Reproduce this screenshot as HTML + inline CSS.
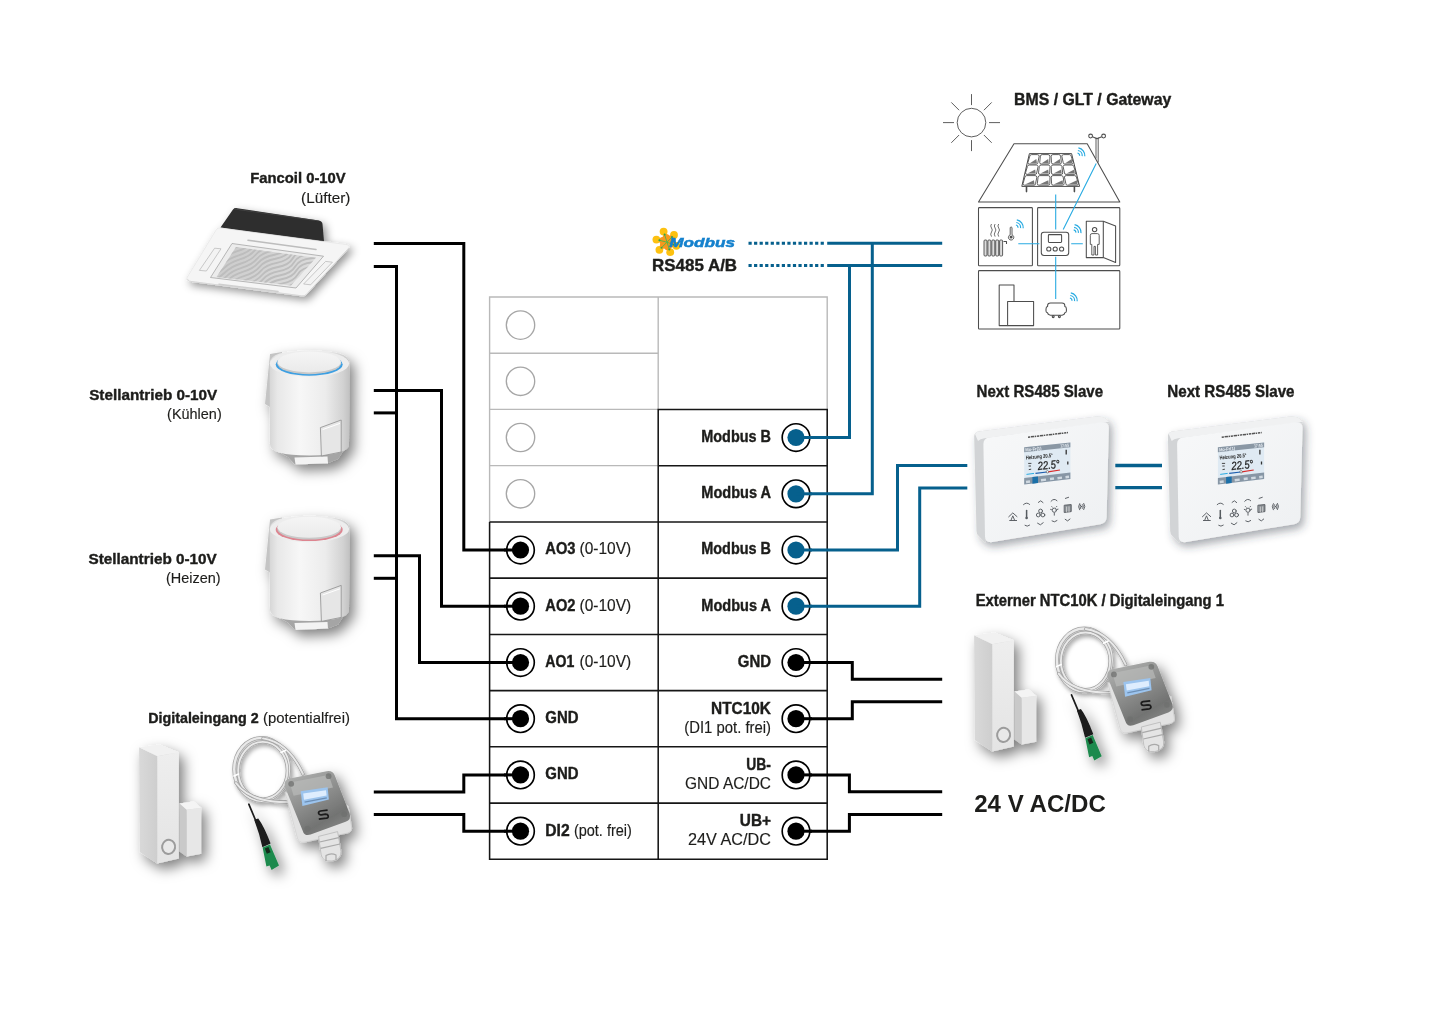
<!DOCTYPE html>
<html><head><meta charset="utf-8"><title>Wiring diagram</title>
<style>
html,body{margin:0;padding:0;background:#fff;}
body{width:1445px;height:1021px;overflow:hidden;font-family:"Liberation Sans",sans-serif;}
svg{display:block;font-family:"Liberation Sans",sans-serif;will-change:transform;}
</style></head><body>
<svg width="1445" height="1021" viewBox="0 0 1445 1021">
<defs>
<filter id="b2" x="-30%" y="-30%" width="160%" height="160%"><feGaussianBlur stdDeviation="2"/></filter>
<filter id="b3" x="-30%" y="-30%" width="160%" height="160%"><feGaussianBlur stdDeviation="3.2"/></filter>
<filter id="b5" x="-40%" y="-40%" width="180%" height="180%"><feGaussianBlur stdDeviation="5"/></filter>
<filter id="ds" x="-40%" y="-40%" width="190%" height="190%"><feDropShadow dx="5" dy="6" stdDeviation="6.2" flood-color="#000" flood-opacity="0.5"/></filter>
<filter id="ds3" x="-40%" y="-40%" width="190%" height="190%"><feDropShadow dx="3.2" dy="3.6" stdDeviation="4" flood-color="#000" flood-opacity="0.42"/></filter>
<filter id="ds4" x="-40%" y="-40%" width="190%" height="190%"><feDropShadow dx="2" dy="2.6" stdDeviation="2.2" flood-color="#000" flood-opacity="0.38"/></filter>
<filter id="ds2" x="-40%" y="-40%" width="190%" height="190%"><feDropShadow dx="3.5" dy="4.5" stdDeviation="4.5" flood-color="#2c3844" flood-opacity="0.42"/></filter>
<filter id="b1" x="-30%" y="-30%" width="160%" height="160%"><feGaussianBlur stdDeviation="0.6"/></filter>
<linearGradient id="cyl" x1="0" x2="1" y1="0" y2="0">
<stop offset="0" stop-color="#d6d6d6"/><stop offset="0.1" stop-color="#e8e8e8"/><stop offset="0.38" stop-color="#f7f7f7"/><stop offset="0.7" stop-color="#ececec"/><stop offset="0.92" stop-color="#d2d2d2"/><stop offset="1" stop-color="#c2c2c2"/></linearGradient>
<linearGradient id="capg" x1="0" x2="0" y1="0" y2="1"><stop offset="0" stop-color="#f5f5f5"/><stop offset="1" stop-color="#eaeaea"/></linearGradient>
<linearGradient id="thf" x1="0" x2="1" y1="0" y2="1"><stop offset="0" stop-color="#f7f8f9"/><stop offset="1" stop-color="#eef0f2"/></linearGradient>
<linearGradient id="doorL" x1="0" x2="1"><stop offset="0" stop-color="#d9d9d9"/><stop offset="1" stop-color="#cecece"/></linearGradient>
<linearGradient id="doorF" x1="0" x2="0" y1="0" y2="1"><stop offset="0" stop-color="#eeeeee"/><stop offset="1" stop-color="#e4e4e4"/></linearGradient>
<linearGradient id="grille" x1="0" x2="1" y1="0" y2="0.3"><stop offset="0" stop-color="#c9c9c9"/><stop offset="1" stop-color="#dadada"/></linearGradient>
<linearGradient id="lid" x1="0.1" x2="0.7" y1="0" y2="1"><stop offset="0" stop-color="#b2b3b2"/><stop offset="0.45" stop-color="#8f908f"/><stop offset="0.8" stop-color="#727372"/><stop offset="1" stop-color="#858685"/></linearGradient>
</defs>
<g id="fancoil" filter="url(#ds3)">
<path d="M233 209.4Q234.6 207.8 237.2 208.2L318.8 220.4Q322.2 221.2 322.5 224L324 241.5L220.5 227.5Z" fill="#2d2d2d"/>
<path d="M234 209L318.8 221" stroke="#454545" stroke-width="0.8"/>
<path d="M216.5 229.2Q218 227.6 220.5 228L347 244.6Q350.8 245.4 348.8 248L306.4 294.4Q304.4 296.4 301.4 295.8L189.2 281.2Q185.4 280.4 187 277.6Z" fill="#f5f5f5" stroke="#e2e2e2" stroke-width="0.6"/>
<path d="M187.4 279L189.2 281.2L301.4 295.8Q304.4 296.4 306.4 294.4L348.8 248" fill="none" stroke="#d6d6d6" stroke-width="0.9"/>
<path d="M232 243.5L323.5 256.2L296 288L210.5 277.5Z" fill="#ececec" stroke="#9c9c9c" stroke-width="0.7"/>
<path d="M236 247L316 257.8L291 285.6L216.5 277Z" fill="url(#grille)"/>
<clipPath id="gc"><path d="M236 247L316 257.8L291 285.6L216.5 277Z"/></clipPath>
<g stroke="#bdbdbd" stroke-width="1.9" fill="none" clip-path="url(#gc)" filter="url(#b1)">
<path d="M202.6 251.8q8 -2 14 -8t16 -9t15 -9t16 -8t15 -9t16 -8t15 -9"/>
<path d="M203.8 255.9q8 -2 14 -8t16 -9t15 -9t16 -8t15 -9t16 -8t15 -9"/>
<path d="M205.0 260.0q8 -2 14 -8t16 -9t15 -9t16 -8t15 -9t16 -8t15 -9"/>
<path d="M206.2 264.1q8 -2 14 -8t16 -9t15 -9t16 -8t15 -9t16 -8t15 -9"/>
<path d="M207.4 268.2q8 -2 14 -8t16 -9t15 -9t16 -8t15 -9t16 -8t15 -9"/>
<path d="M208.6 272.3q8 -2 14 -8t16 -9t15 -9t16 -8t15 -9t16 -8t15 -9"/>
<path d="M209.8 276.4q8 -2 14 -8t16 -9t15 -9t16 -8t15 -9t16 -8t15 -9"/>
<path d="M211.0 280.5q8 -2 14 -8t16 -9t15 -9t16 -8t15 -9t16 -8t15 -9"/>
<path d="M212.2 284.6q8 -2 14 -8t16 -9t15 -9t16 -8t15 -9t16 -8t15 -9"/>
<path d="M213.4 288.7q8 -2 14 -8t16 -9t15 -9t16 -8t15 -9t16 -8t15 -9"/>
<path d="M214.6 292.8q8 -2 14 -8t16 -9t15 -9t16 -8t15 -9t16 -8t15 -9"/>
<path d="M215.8 296.9q8 -2 14 -8t16 -9t15 -9t16 -8t15 -9t16 -8t15 -9"/>
<path d="M217.0 301.0q8 -2 14 -8t16 -9t15 -9t16 -8t15 -9t16 -8t15 -9"/>
<path d="M218.2 305.1q8 -2 14 -8t16 -9t15 -9t16 -8t15 -9t16 -8t15 -9"/>
<path d="M219.4 309.2q8 -2 14 -8t16 -9t15 -9t16 -8t15 -9t16 -8t15 -9"/>
<path d="M220.6 313.3q8 -2 14 -8t16 -9t15 -9t16 -8t15 -9t16 -8t15 -9"/>
<path d="M221.8 317.4q8 -2 14 -8t16 -9t15 -9t16 -8t15 -9t16 -8t15 -9"/>
<path d="M223.0 321.5q8 -2 14 -8t16 -9t15 -9t16 -8t15 -9t16 -8t15 -9"/>
<path d="M224.2 325.6q8 -2 14 -8t16 -9t15 -9t16 -8t15 -9t16 -8t15 -9"/>
<path d="M225.4 329.7q8 -2 14 -8t16 -9t15 -9t16 -8t15 -9t16 -8t15 -9"/>
<path d="M226.6 333.8q8 -2 14 -8t16 -9t15 -9t16 -8t15 -9t16 -8t15 -9"/>
<path d="M227.8 337.9q8 -2 14 -8t16 -9t15 -9t16 -8t15 -9t16 -8t15 -9"/>
<path d="M229.0 342.0q8 -2 14 -8t16 -9t15 -9t16 -8t15 -9t16 -8t15 -9"/>
<path d="M230.2 346.1q8 -2 14 -8t16 -9t15 -9t16 -8t15 -9t16 -8t15 -9"/>
</g>
<path d="M248 240.2L316 249.5" stroke="#bdbdbd" stroke-width="1.6" stroke-linecap="round"/>
<path d="M219 284.2L278 291.5" stroke="#cfcfcf" stroke-width="1.6" stroke-linecap="round"/>
<path d="M214.6 248.2L221 248.8L206.4 271L199.4 270.4Z" fill="#f3f3f3" stroke="#b5b5b5" stroke-width="0.7" stroke-linejoin="round"/>
<path d="M325.6 261.4L332.4 262.2L310.6 284.8L303.6 284Z" fill="#f3f3f3" stroke="#b5b5b5" stroke-width="0.7" stroke-linejoin="round"/>
</g>
<g transform="translate(0 0)" filter="url(#ds)">
<path d="M270 354L282 352L282 414L265 404Z" fill="#c4c4c4"/>
<path d="M276 450L344 450L338 459L328 463L295 464.5L288 457Z" fill="#a5a5a5"/>
<path d="M294.5 457.5L327.5 456.5L328 463.2L295.5 464.5Z" fill="#f3f3f3"/>
<path d="M269.6 363Q269.6 350.6 309.5 350.6Q349.4 350.6 349.4 363L349 444Q349 455.5 309.5 455.5Q270 455.5 270 444Z" fill="url(#cyl)"/>
<ellipse cx="309.5" cy="363.6" rx="39.7" ry="13.2" fill="#ededed"/>
<ellipse cx="309.2" cy="364.5" rx="33.5" ry="11.2" fill="#3d9fe2"/>
<ellipse cx="309.2" cy="363.2" rx="32" ry="11" fill="#c8c8c8"/>
<ellipse cx="309.2" cy="361.9" rx="31.7" ry="10.5" fill="url(#capg)"/>
<path d="M320.4 427.6L341.2 420V452L321.4 456Z" fill="#e6e6e6" stroke="#8e8e8e" stroke-width="0.8"/>
<path d="M322.6 429.6L340 423.4" stroke="#fff" stroke-width="1"/>
</g>
<g transform="translate(0 165.4)" filter="url(#ds)">
<path d="M270 354L282 352L282 414L265 404Z" fill="#c4c4c4"/>
<path d="M276 450L344 450L338 459L328 463L295 464.5L288 457Z" fill="#a5a5a5"/>
<path d="M294.5 457.5L327.5 456.5L328 463.2L295.5 464.5Z" fill="#f3f3f3"/>
<path d="M269.6 363Q269.6 350.6 309.5 350.6Q349.4 350.6 349.4 363L349 444Q349 455.5 309.5 455.5Q270 455.5 270 444Z" fill="url(#cyl)"/>
<ellipse cx="309.5" cy="363.6" rx="39.7" ry="13.2" fill="#ededed"/>
<ellipse cx="309.2" cy="364.5" rx="33.5" ry="11.2" fill="#dd8590"/>
<ellipse cx="309.2" cy="363.2" rx="32" ry="11" fill="#c8c8c8"/>
<ellipse cx="309.2" cy="361.9" rx="31.7" ry="10.5" fill="url(#capg)"/>
<path d="M320.4 427.6L341.2 420V452L321.4 456Z" fill="#e6e6e6" stroke="#8e8e8e" stroke-width="0.8"/>
<path d="M322.6 429.6L340 423.4" stroke="#fff" stroke-width="1"/>
</g>
<g transform="translate(0 0)" filter="url(#ds)">
<path d="M139.1 747.2L157.2 756.3L157.2 863.5L139.8 852Z" fill="url(#doorL)"/>
<path d="M139.1 747.2L159.3 744.6L178.8 752.2L157.2 756.3Z" fill="#f1f1f1"/>
<path d="M157.2 756.3L178.8 752.2L178.8 858.6L157.2 863.5Z" fill="url(#doorF)"/>
<ellipse cx="168.6" cy="846.9" rx="6.5" ry="7.1" fill="#e9e9e9" stroke="#9c9c9c" stroke-width="2" transform="rotate(12 168.6 846.9)"/>
<path d="M179.6 803.6L186.7 809.8L186.7 856.4L179.6 851.6Z" fill="#c9c9c9"/>
<path d="M179.6 803.6L193.6 801.5L201.1 807.7L186.7 809.8Z" fill="#f4f4f4"/>
<path d="M186.7 809.8L201.1 807.7L201.1 853.7L186.7 856.4Z" fill="#e7e7e7"/>
</g>
<g transform="translate(0 0)" filter="url(#ds4)">
<g fill="none" stroke-linecap="round">
<ellipse cx="261.6" cy="769.3" rx="27.4" ry="31.4" stroke="#a4a4a4" stroke-width="3.9"/>
<ellipse cx="261.6" cy="769.3" rx="27.4" ry="31.4" stroke="#e9e9e9" stroke-width="2.4"/>
<ellipse cx="262.8" cy="770.5" rx="24.6" ry="28.6" stroke="#a4a4a4" stroke-width="3.4"/>
<ellipse cx="262.8" cy="770.5" rx="24.6" ry="28.6" stroke="#e9e9e9" stroke-width="1.9"/>
<path d="M263 738.4Q288 742 303 774" stroke="#a4a4a4" stroke-width="3.4"/><path d="M263 738.4Q288 742 303 774" stroke="#e9e9e9" stroke-width="1.9"/>
<path d="M236 783Q250 803 290 802" stroke="#a4a4a4" stroke-width="3.4"/><path d="M236 783Q250 803 290 802" stroke="#e9e9e9" stroke-width="1.9"/>
<path d="M281 752.5L285.5 750.5M238.5 774L234 776" stroke="#fff" stroke-width="1.6"/>
</g>
</g>
<g transform="translate(0 0)" filter="url(#ds)">
<path d="M285 792L297.5 838.5Q299 843 304 842.2L347.5 833Q352.5 831.6 351.5 827L348 806Z" fill="#e2e2e2" stroke="#cdcdcd" stroke-width="0.6"/>
<path d="M284.8 786.4Q283.4 780 289.8 778.6L326.6 771.2Q333 770.2 335 776L349.6 813.4Q351.6 819.6 345.6 821.8L310.6 834.6Q304.4 836.6 302.6 830.4Z" fill="url(#lid)"/>
<path d="M290.5 785.5Q289.5 782.6 292.5 782L325.6 775.4Q328.6 775 329.6 777.6L333 787.5L293.6 795.8Z" fill="#b9bab9" opacity="0.7"/>
<circle cx="291.2" cy="783.8" r="2.9" fill="#6f706f" opacity="0.75"/>
<circle cx="328.6" cy="776.2" r="2.9" fill="#6f706f" opacity="0.75"/>
<circle cx="344.2" cy="814.2" r="2.9" fill="#6f706f" opacity="0.75"/>
<circle cx="307.4" cy="828.6" r="2.9" fill="#6f706f" opacity="0.75"/>
<path d="M300.7 791.3L327.6 787.3L328.9 799.6L302.4 806.1Z" fill="#9cc4ee"/>
<path d="M303.2 793.6L326 790.2L326.6 795.6L304 799.8Z" fill="#e6f2ff" opacity="0.9"/>
<path d="M304.6 802.2L326.8 797.8" stroke="#6d8fb5" stroke-width="1.2"/>
<path d="M327.6 810.2L320.4 811Q318.2 811.6 318.6 813.4T321.4 814.8L325.4 814.2Q327.8 814.2 328.2 816T326.4 818.2L318.8 819.2" fill="none" stroke="#1c1c1c" stroke-width="1.7"/>
<path d="M318.6 836.4L337.6 831.6L341 851.4Q341.6 859.4 332 861Q322.4 861.8 321.2 855Z" fill="#e4e4e4" stroke="#b8b8b8" stroke-width="0.8"/>
<path d="M319.6 842L338.8 837.6M320.6 848.4L340 844M326 861V855.6Q331 852.4 336 855V860" stroke="#a9a9a9" stroke-width="1.2" fill="none"/>
<path d="M248.8 804.2L258 826" stroke="#1c1c1c" stroke-width="1.7" stroke-linecap="round"/>
<path d="M254.2 819.8L258.2 818.4Q264 826 270.6 843.6L262.4 847.2Q259.6 834 254.2 819.8Z" fill="#1a1a1a"/>
<path d="M262.6 847.6L270 844.4L279 865.6L271.6 870L269.6 865.4L266.4 866.6Z" fill="#1f8a4d"/>
<path d="M264.8 848.6L268.4 847L270.6 852.2L266.8 853.8Z" fill="#122a1b"/>
</g>
<g transform="translate(835 -112)" filter="url(#ds)">
<path d="M139.1 747.2L157.2 756.3L157.2 863.5L139.8 852Z" fill="url(#doorL)"/>
<path d="M139.1 747.2L159.3 744.6L178.8 752.2L157.2 756.3Z" fill="#f1f1f1"/>
<path d="M157.2 756.3L178.8 752.2L178.8 858.6L157.2 863.5Z" fill="url(#doorF)"/>
<ellipse cx="168.6" cy="846.9" rx="6.5" ry="7.1" fill="#e9e9e9" stroke="#9c9c9c" stroke-width="2" transform="rotate(12 168.6 846.9)"/>
<path d="M179.6 803.6L186.7 809.8L186.7 856.4L179.6 851.6Z" fill="#c9c9c9"/>
<path d="M179.6 803.6L193.6 801.5L201.1 807.7L186.7 809.8Z" fill="#f4f4f4"/>
<path d="M186.7 809.8L201.1 807.7L201.1 853.7L186.7 856.4Z" fill="#e7e7e7"/>
</g>
<g transform="translate(822.7 -109.4)" filter="url(#ds4)">
<g fill="none" stroke-linecap="round">
<ellipse cx="261.6" cy="769.3" rx="27.4" ry="31.4" stroke="#a4a4a4" stroke-width="3.9"/>
<ellipse cx="261.6" cy="769.3" rx="27.4" ry="31.4" stroke="#e9e9e9" stroke-width="2.4"/>
<ellipse cx="262.8" cy="770.5" rx="24.6" ry="28.6" stroke="#a4a4a4" stroke-width="3.4"/>
<ellipse cx="262.8" cy="770.5" rx="24.6" ry="28.6" stroke="#e9e9e9" stroke-width="1.9"/>
<path d="M263 738.4Q288 742 303 774" stroke="#a4a4a4" stroke-width="3.4"/><path d="M263 738.4Q288 742 303 774" stroke="#e9e9e9" stroke-width="1.9"/>
<path d="M236 783Q250 803 290 802" stroke="#a4a4a4" stroke-width="3.4"/><path d="M236 783Q250 803 290 802" stroke="#e9e9e9" stroke-width="1.9"/>
<path d="M281 752.5L285.5 750.5M238.5 774L234 776" stroke="#fff" stroke-width="1.6"/>
</g>
</g>
<g transform="translate(822.7 -109.4)" filter="url(#ds)">
<path d="M285 792L297.5 838.5Q299 843 304 842.2L347.5 833Q352.5 831.6 351.5 827L348 806Z" fill="#e2e2e2" stroke="#cdcdcd" stroke-width="0.6"/>
<path d="M284.8 786.4Q283.4 780 289.8 778.6L326.6 771.2Q333 770.2 335 776L349.6 813.4Q351.6 819.6 345.6 821.8L310.6 834.6Q304.4 836.6 302.6 830.4Z" fill="url(#lid)"/>
<path d="M290.5 785.5Q289.5 782.6 292.5 782L325.6 775.4Q328.6 775 329.6 777.6L333 787.5L293.6 795.8Z" fill="#b9bab9" opacity="0.7"/>
<circle cx="291.2" cy="783.8" r="2.9" fill="#6f706f" opacity="0.75"/>
<circle cx="328.6" cy="776.2" r="2.9" fill="#6f706f" opacity="0.75"/>
<circle cx="344.2" cy="814.2" r="2.9" fill="#6f706f" opacity="0.75"/>
<circle cx="307.4" cy="828.6" r="2.9" fill="#6f706f" opacity="0.75"/>
<path d="M300.7 791.3L327.6 787.3L328.9 799.6L302.4 806.1Z" fill="#9cc4ee"/>
<path d="M303.2 793.6L326 790.2L326.6 795.6L304 799.8Z" fill="#e6f2ff" opacity="0.9"/>
<path d="M304.6 802.2L326.8 797.8" stroke="#6d8fb5" stroke-width="1.2"/>
<path d="M327.6 810.2L320.4 811Q318.2 811.6 318.6 813.4T321.4 814.8L325.4 814.2Q327.8 814.2 328.2 816T326.4 818.2L318.8 819.2" fill="none" stroke="#1c1c1c" stroke-width="1.7"/>
<path d="M318.6 836.4L337.6 831.6L341 851.4Q341.6 859.4 332 861Q322.4 861.8 321.2 855Z" fill="#e4e4e4" stroke="#b8b8b8" stroke-width="0.8"/>
<path d="M319.6 842L338.8 837.6M320.6 848.4L340 844M326 861V855.6Q331 852.4 336 855V860" stroke="#a9a9a9" stroke-width="1.2" fill="none"/>
<path d="M248.8 804.2L258 826" stroke="#1c1c1c" stroke-width="1.7" stroke-linecap="round"/>
<path d="M254.2 819.8L258.2 818.4Q264 826 270.6 843.6L262.4 847.2Q259.6 834 254.2 819.8Z" fill="#1a1a1a"/>
<path d="M262.6 847.6L270 844.4L279 865.6L271.6 870L269.6 865.4L266.4 866.6Z" fill="#1f8a4d"/>
<path d="M264.8 848.6L268.4 847L270.6 852.2L266.8 853.8Z" fill="#122a1b"/>
</g>
<g transform="translate(0 0)" filter="url(#ds2)">
<path d="M974.2 437Q974 432.6 978 431.4L1096 416.6Q1104 416 1107.5 420L1109 423L985 439L985.5 543L978.8 536Q976.6 534.5 976.5 531Z" fill="#d2d4d6"/>
<path d="M975 434Q975.5 432 978 431.4L1096 416.6Q1104 416 1107.5 420L1108.6 422L984.5 438.2Q980 439 978 441Z" fill="#f0f1f2"/>
<path d="M983.4 444Q983.4 438.4 989 437.4L1102 422.2Q1108.8 421.6 1108.8 428L1106.6 517Q1106.4 523 1100.4 524.2L992.4 542Q985.2 543 985 536.4Z" fill="url(#thf)"/>
<path d="M1028 437.2L1068 432.6" stroke="#555" stroke-width="1.5" stroke-dasharray="2.2 0.7 3.4 0.6 1.4 0.8"/>
<path d="M1024.2 447.2L1070.4 442.4L1070.4 479L1024.2 484.6Z" fill="#dfeaf3"/>
<path d="M1024.2 447.2L1070.4 442.4L1070.4 447.3L1024.2 452.3Z" fill="#8a97a4"/>
<path d="M1024.2 478L1070.4 472.6L1070.4 479L1024.2 484.6Z" fill="#8796a5"/>
<path d="M1032.4 477L1038 476.4L1038 483L1032.4 483.7Z" fill="#1f6fa8"/>
<text x="1038" y="469.9" font-size="11.6" font-style="italic" fill="#1a1a1a" stroke="#1a1a1a" stroke-width="0.25" transform="rotate(-5.5 1038 469.9)" textLength="22" lengthAdjust="spacingAndGlyphs">22.5°</text>
<text x="1026" y="459.6" font-size="5.4" font-weight="bold" fill="#222" transform="rotate(-5.5 1026 459.6)" textLength="27" lengthAdjust="spacingAndGlyphs">Heizung 20.5°</text>
<text x="1025.6" y="451.4" font-size="4.6" font-weight="bold" fill="#e8eef4" transform="rotate(-5.5 1025.6 451.4)" textLength="16" lengthAdjust="spacingAndGlyphs">Mo-Fr(1)</text>
<text x="1060.5" y="447.6" font-size="4.6" font-weight="bold" fill="#e8eef4" transform="rotate(-5.5 1060.5 447.6)" textLength="8.6" lengthAdjust="spacingAndGlyphs">17:55</text>
<path d="M1066.2 449.8V454.6M1067.8 461.6V464.6" stroke="#333" stroke-width="1.3"/>
<path d="M1028.2 463.4H1031.4M1028.6 466H1031M1028.8 469.6L1031.2 469.2" stroke="#333" stroke-width="0.9"/>
<path d="M1026.5 474.4L1034 473.4" stroke="#29abe2" stroke-width="1"/><path d="M1035.5 473.4L1047 472" stroke="#1f5fae" stroke-width="1.2"/><path d="M1048 471.8L1060 470" stroke="#d92b2b" stroke-width="1.2"/><circle cx="1047.4" cy="471.8" r="1.2" fill="#fff" stroke="#333" stroke-width="0.5"/>
<path d="M1026 482L1030 481.5M1041 480.2L1046 479.6M1050 479L1054 478.5M1057.5 478.2L1062 477.6M1065.5 477.2L1069 476.8" stroke="#dde5ec" stroke-width="2.4" opacity="0.85"/>
<g fill="none" stroke="#565b60" stroke-width="0.95" stroke-linecap="round">
<path d="M1008.7 516.8L1012.8 512.9L1017 516.6M1009.7 520.5H1016.6M1011 520.2L1012.8 515.8L1014.6 520.2"/>
<path d="M1026.6 510.4V517.6" stroke-width="1.5"/><circle cx="1026.6" cy="518" r="1.3" fill="#565b60" stroke="none"/>
<path d="M1023.5 504.6Q1026.6 501.6 1029.6 504.4M1025 525.4Q1027.2 527.2 1029.6 525.2"/>
<circle cx="1040.6" cy="511" r="1.9"/><circle cx="1038.3" cy="515" r="1.9"/><circle cx="1042.9" cy="515" r="1.9"/>
<path d="M1038.4 502.4L1040.7 500.8L1043 502.6M1037.6 523.2L1040.4 524.8L1043.2 522.7"/>
<circle cx="1054.3" cy="510.2" r="2.1"/><path d="M1054.3 513V515.2M1050.6 509.4L1051.4 509.6M1058 509.2L1057.2 509.4M1051.8 506.6L1052.4 507.2M1056.8 506.4L1056.2 507"/>
<path d="M1051 501.3Q1054 497.6 1057 500.7M1052 521Q1054.4 523 1057 520.6"/>
<path d="M1064.6 505.2L1071.2 504.6V511.6L1064.6 512.4Z" fill="#8a8f94"/><path d="M1066.6 507V512M1069 506.8V511.8" stroke="#e8e8e8" stroke-width="0.7"/>
<path d="M1065.4 498.4L1068.6 497.3M1065.2 519.3L1067.6 520.9L1070 519"/>
<path d="M1079.6 503.6Q1077.4 506.6 1079.6 509.8M1083.8 503.4Q1086 506.4 1083.8 509.6M1080.6 504.8Q1079.4 506.6 1080.6 508.6M1082.8 504.6Q1084 506.4 1082.8 508.4"/><circle cx="1081.7" cy="506.6" r="0.8" fill="#565b60" stroke="none"/>
</g>
</g>
<g transform="translate(193.7 0)" filter="url(#ds2)">
<path d="M974.2 437Q974 432.6 978 431.4L1096 416.6Q1104 416 1107.5 420L1109 423L985 439L985.5 543L978.8 536Q976.6 534.5 976.5 531Z" fill="#d2d4d6"/>
<path d="M975 434Q975.5 432 978 431.4L1096 416.6Q1104 416 1107.5 420L1108.6 422L984.5 438.2Q980 439 978 441Z" fill="#f0f1f2"/>
<path d="M983.4 444Q983.4 438.4 989 437.4L1102 422.2Q1108.8 421.6 1108.8 428L1106.6 517Q1106.4 523 1100.4 524.2L992.4 542Q985.2 543 985 536.4Z" fill="url(#thf)"/>
<path d="M1028 437.2L1068 432.6" stroke="#555" stroke-width="1.5" stroke-dasharray="2.2 0.7 3.4 0.6 1.4 0.8"/>
<path d="M1024.2 447.2L1070.4 442.4L1070.4 479L1024.2 484.6Z" fill="#dfeaf3"/>
<path d="M1024.2 447.2L1070.4 442.4L1070.4 447.3L1024.2 452.3Z" fill="#8a97a4"/>
<path d="M1024.2 478L1070.4 472.6L1070.4 479L1024.2 484.6Z" fill="#8796a5"/>
<path d="M1032.4 477L1038 476.4L1038 483L1032.4 483.7Z" fill="#1f6fa8"/>
<text x="1038" y="469.9" font-size="11.6" font-style="italic" fill="#1a1a1a" stroke="#1a1a1a" stroke-width="0.25" transform="rotate(-5.5 1038 469.9)" textLength="22" lengthAdjust="spacingAndGlyphs">22.5°</text>
<text x="1026" y="459.6" font-size="5.4" font-weight="bold" fill="#222" transform="rotate(-5.5 1026 459.6)" textLength="27" lengthAdjust="spacingAndGlyphs">Heizung 20.5°</text>
<text x="1025.6" y="451.4" font-size="4.6" font-weight="bold" fill="#e8eef4" transform="rotate(-5.5 1025.6 451.4)" textLength="16" lengthAdjust="spacingAndGlyphs">Mo-Fr(1)</text>
<text x="1060.5" y="447.6" font-size="4.6" font-weight="bold" fill="#e8eef4" transform="rotate(-5.5 1060.5 447.6)" textLength="8.6" lengthAdjust="spacingAndGlyphs">17:55</text>
<path d="M1066.2 449.8V454.6M1067.8 461.6V464.6" stroke="#333" stroke-width="1.3"/>
<path d="M1028.2 463.4H1031.4M1028.6 466H1031M1028.8 469.6L1031.2 469.2" stroke="#333" stroke-width="0.9"/>
<path d="M1026.5 474.4L1034 473.4" stroke="#29abe2" stroke-width="1"/><path d="M1035.5 473.4L1047 472" stroke="#1f5fae" stroke-width="1.2"/><path d="M1048 471.8L1060 470" stroke="#d92b2b" stroke-width="1.2"/><circle cx="1047.4" cy="471.8" r="1.2" fill="#fff" stroke="#333" stroke-width="0.5"/>
<path d="M1026 482L1030 481.5M1041 480.2L1046 479.6M1050 479L1054 478.5M1057.5 478.2L1062 477.6M1065.5 477.2L1069 476.8" stroke="#dde5ec" stroke-width="2.4" opacity="0.85"/>
<g fill="none" stroke="#565b60" stroke-width="0.95" stroke-linecap="round">
<path d="M1008.7 516.8L1012.8 512.9L1017 516.6M1009.7 520.5H1016.6M1011 520.2L1012.8 515.8L1014.6 520.2"/>
<path d="M1026.6 510.4V517.6" stroke-width="1.5"/><circle cx="1026.6" cy="518" r="1.3" fill="#565b60" stroke="none"/>
<path d="M1023.5 504.6Q1026.6 501.6 1029.6 504.4M1025 525.4Q1027.2 527.2 1029.6 525.2"/>
<circle cx="1040.6" cy="511" r="1.9"/><circle cx="1038.3" cy="515" r="1.9"/><circle cx="1042.9" cy="515" r="1.9"/>
<path d="M1038.4 502.4L1040.7 500.8L1043 502.6M1037.6 523.2L1040.4 524.8L1043.2 522.7"/>
<circle cx="1054.3" cy="510.2" r="2.1"/><path d="M1054.3 513V515.2M1050.6 509.4L1051.4 509.6M1058 509.2L1057.2 509.4M1051.8 506.6L1052.4 507.2M1056.8 506.4L1056.2 507"/>
<path d="M1051 501.3Q1054 497.6 1057 500.7M1052 521Q1054.4 523 1057 520.6"/>
<path d="M1064.6 505.2L1071.2 504.6V511.6L1064.6 512.4Z" fill="#8a8f94"/><path d="M1066.6 507V512M1069 506.8V511.8" stroke="#e8e8e8" stroke-width="0.7"/>
<path d="M1065.4 498.4L1068.6 497.3M1065.2 519.3L1067.6 520.9L1070 519"/>
<path d="M1079.6 503.6Q1077.4 506.6 1079.6 509.8M1083.8 503.4Q1086 506.4 1083.8 509.6M1080.6 504.8Q1079.4 506.6 1080.6 508.6M1082.8 504.6Q1084 506.4 1082.8 508.4"/><circle cx="1081.7" cy="506.6" r="0.8" fill="#565b60" stroke="none"/>
</g>
</g>
<g fill="none" stroke="#4d4d4d" stroke-width="1.05" stroke-linejoin="round">
<circle cx="971.5" cy="122.6" r="14.3" stroke-width="0.9"/>
<path d="M989.0 122.6L1000.0 122.6" stroke-width="0.9"/>
<path d="M983.9 135.0L991.7 142.8" stroke-width="0.9"/>
<path d="M971.5 140.1L971.5 151.1" stroke-width="0.9"/>
<path d="M959.1 135.0L951.3 142.8" stroke-width="0.9"/>
<path d="M954.0 122.6L943.0 122.6" stroke-width="0.9"/>
<path d="M959.1 110.2L951.3 102.4" stroke-width="0.9"/>
<path d="M971.5 105.1L971.5 94.1" stroke-width="0.9"/>
<path d="M983.9 110.2L991.7 102.4" stroke-width="0.9"/>
<path d="M1014 143.8H1087.2L1119.8 202H978.5Z"/>
<rect x="978.5" y="207.6" width="53.9" height="58.2" rx="0.8"/>
<rect x="1037.6" y="207.6" width="82.2" height="58.2" rx="0.8"/>
<rect x="978.5" y="270.6" width="141.3" height="58.4" rx="0.8"/>
<path d="M1029.4 153.6H1071.6L1079.6 186.4H1021.8Z" stroke-width="1"/>
<path d="M1031.6 154.6H1037.4Q1038.9 154.6 1039.2 156.1L1037.9 162.5Q1037.9 164 1036.4 164H1029.4Q1027.9 164 1027.9 162.5L1029.8 156.1Q1030.1 154.6 1031.6 154.6Z" stroke-width="0.9"/>
<path d="M1029.9 163.2L1036.4 159L1036.9 163.2Z" fill="#777" stroke="none"/>
<path d="M1042.2 154.6H1048.1Q1049.6 154.6 1049.9 156.1L1049.7 162.5Q1049.7 164 1048.2 164H1041.2Q1039.7 164 1039.7 162.5L1040.4 156.1Q1040.7 154.6 1042.2 154.6Z" stroke-width="0.9"/>
<path d="M1041.7 163.2L1048.2 159L1048.7 163.2Z" fill="#777" stroke="none"/>
<path d="M1052.9 154.6H1058.8Q1060.3 154.6 1060.6 156.1L1061.4 162.5Q1061.4 164 1059.9 164H1053.0Q1051.5 164 1051.5 162.5L1051.1 156.1Q1051.4 154.6 1052.9 154.6Z" stroke-width="0.9"/>
<path d="M1053.5 163.2L1059.9 159L1060.4 163.2Z" fill="#777" stroke="none"/>
<path d="M1063.6 154.6H1069.4Q1070.9 154.6 1071.2 156.1L1073.2 162.5Q1073.2 164 1071.7 164H1064.8Q1063.2 164 1063.2 162.5L1061.8 156.1Q1062.1 154.6 1063.6 154.6Z" stroke-width="0.9"/>
<path d="M1065.2 163.2L1071.7 159L1072.2 163.2Z" fill="#777" stroke="none"/>
<path d="M1029.2 165H1036.3Q1037.8 165 1038.1 166.5L1036.7 172.9Q1036.7 174.4 1035.2 174.4H1027.0Q1025.5 174.4 1025.5 172.9L1027.4 166.5Q1027.7 165 1029.2 165Z" stroke-width="0.9"/>
<path d="M1027.5 173.6L1035.2 169.4L1035.7 173.6Z" fill="#777" stroke="none"/>
<path d="M1041.1 165H1048.2Q1049.7 165 1050.0 166.5L1049.7 172.9Q1049.7 174.4 1048.2 174.4H1040.0Q1038.5 174.4 1038.5 172.9L1039.3 166.5Q1039.6 165 1041.1 165Z" stroke-width="0.9"/>
<path d="M1040.5 173.6L1048.2 169.4L1048.7 173.6Z" fill="#777" stroke="none"/>
<path d="M1053.0 165H1060.1Q1061.6 165 1061.9 166.5L1062.7 172.9Q1062.7 174.4 1061.2 174.4H1053.0Q1051.5 174.4 1051.5 172.9L1051.2 166.5Q1051.5 165 1053.0 165Z" stroke-width="0.9"/>
<path d="M1053.5 173.6L1061.2 169.4L1061.7 173.6Z" fill="#777" stroke="none"/>
<path d="M1064.9 165H1072.0Q1073.5 165 1073.8 166.5L1075.8 172.9Q1075.8 174.4 1074.3 174.4H1066.0Q1064.5 174.4 1064.5 172.9L1063.1 166.5Q1063.4 165 1064.9 165Z" stroke-width="0.9"/>
<path d="M1066.5 173.6L1074.3 169.4L1074.8 173.6Z" fill="#777" stroke="none"/>
<path d="M1026.7 175.6H1035.1Q1036.6 175.6 1036.9 177.1L1035.5 183.7Q1035.5 185.2 1034.0 185.2H1024.5Q1023.0 185.2 1023.0 183.7L1024.9 177.1Q1025.2 175.6 1026.7 175.6Z" stroke-width="0.9"/>
<path d="M1025.0 184.39999999999998L1034.0 180.2L1034.5 184.39999999999998Z" fill="#777" stroke="none"/>
<path d="M1039.9 175.6H1048.2Q1049.7 175.6 1050.0 177.1L1049.8 183.7Q1049.8 185.2 1048.3 185.2H1038.8Q1037.3 185.2 1037.3 183.7L1038.1 177.1Q1038.4 175.6 1039.9 175.6Z" stroke-width="0.9"/>
<path d="M1039.3 184.39999999999998L1048.3 180.2L1048.8 184.39999999999998Z" fill="#777" stroke="none"/>
<path d="M1053.0 175.6H1061.4Q1062.9 175.6 1063.2 177.1L1064.1 183.7Q1064.1 185.2 1062.6 185.2H1053.1Q1051.6 185.2 1051.6 183.7L1051.2 177.1Q1051.5 175.6 1053.0 175.6Z" stroke-width="0.9"/>
<path d="M1053.6 184.39999999999998L1062.6 180.2L1063.1 184.39999999999998Z" fill="#777" stroke="none"/>
<path d="M1066.2 175.6H1074.6Q1076.1 175.6 1076.4 177.1L1078.4 183.7Q1078.4 185.2 1076.9 185.2H1067.4Q1065.9 185.2 1065.9 183.7L1064.4 177.1Q1064.7 175.6 1066.2 175.6Z" stroke-width="0.9"/>
<path d="M1067.9 184.39999999999998L1076.9 180.2L1077.4 184.39999999999998Z" fill="#777" stroke="none"/>
<path d="M1026.5 187V191.6M1074.4 187V191.6" stroke-width="1.6" stroke-linecap="round"/>
<path d="M1096 137.5V158.5M1098.2 137.5V162.5" stroke-width="0.9"/>
<circle cx="1090.6" cy="136" r="1.9"/><circle cx="1103.6" cy="136" r="1.9"/><path d="M1092.5 136.8L1097 138.8L1101.7 136.8"/>
<rect x="984.0" y="240" width="3" height="16" rx="1" stroke-width="0.9" fill="#ddd"/>
<rect x="987.9" y="240" width="3" height="16" rx="1" stroke-width="0.9" fill="#ddd"/>
<rect x="991.8" y="240" width="3" height="16" rx="1" stroke-width="0.9" fill="#ddd"/>
<rect x="995.7" y="240" width="3" height="16" rx="1" stroke-width="0.9" fill="#ddd"/>
<rect x="999.6" y="240" width="3" height="16" rx="1" stroke-width="0.9" fill="#ddd"/>
<path d="M1003.5 241.5H1006.5V244"/>
<path d="M991.5 224q-1.6 2 0 4t0 4t0 4.6" stroke-width="0.8"/>
<path d="M995.1 224q-1.6 2 0 4t0 4t0 4.6" stroke-width="0.8"/>
<path d="M998.7 224q-1.6 2 0 4t0 4t0 4.6" stroke-width="0.8"/>
<path d="M1010.2 227.5V234.8A2.7 2.7 0 1 0 1012 234.8V227.5Q1011.1 226.4 1010.2 227.5Z" stroke-width="0.9"/><circle cx="1011.1" cy="237" r="1" fill="#4d4d4d"/>
<rect x="1041.3" y="232.2" width="27.4" height="23.2" rx="2.6"/>
<rect x="1048.4" y="234.6" width="13.2" height="7.8" rx="0.8"/>
<circle cx="1048.8" cy="249" r="2.1"/>
<circle cx="1055.2" cy="249" r="2.1"/>
<circle cx="1061.6" cy="249" r="2.1"/>
<path d="M1086.3 221.2H1103.3V257.6H1086.3Z"/>
<path d="M1103.3 221.2L1115.6 226V262.4L1103.3 257.6"/>
<circle cx="1094.6" cy="229.6" r="2.2"/>
<path d="M1090.3 235.4Q1090.3 233.6 1092 233.6H1097.4Q1099.2 233.6 1099.2 235.4V244.4H1097.6V255H1095.4V246.4H1094V255H1091.8V244.4H1090.3Z" stroke-width="0.9"/>
<path d="M1007.6 325.6H999.2V285H1014V301.4"/><rect x="1007.6" y="301.4" width="26" height="24.2"/>
<path d="M1047.6 305.4Q1047.6 303 1050.5 303H1062Q1064.8 303 1064.8 305.4V306.6Q1066.4 306.8 1066.4 309V311Q1066.4 312.6 1064.8 312.8Q1064.6 315 1062 315.2H1050.5Q1047.8 315 1047.6 312.8Q1046 312.6 1046 311V309Q1046 306.8 1047.6 306.6Z"/>
<circle cx="1053.2" cy="316.6" r="1"/><circle cx="1059.4" cy="316.6" r="1"/>
</g>
<g fill="none" stroke="#29abe2" stroke-width="1.1">
<path d="M1055.7 194.4V229.6M1096.2 163.4L1063.2 229.6M1018.3 243.8H1039.4M1071.2 243.8H1082.8M1055.7 256.8V299"/>
<path d="M1077.5 153.0A2.6 2.6 0 0 1 1079.6 155.8" stroke-width="1.2"/>
<path d="M1077.9 150.5A5.2 5.2 0 0 1 1082.2 156.1" stroke-width="1.2"/>
<path d="M1078.4 147.9A7.8 7.8 0 0 1 1084.8 156.3" stroke-width="1.2"/>
<path d="M1015.9 225.0A2.6 2.6 0 0 1 1018.0 227.8" stroke-width="1.2"/>
<path d="M1016.3 222.5A5.2 5.2 0 0 1 1020.6 228.1" stroke-width="1.2"/>
<path d="M1016.8 219.9A7.8 7.8 0 0 1 1023.2 228.3" stroke-width="1.2"/>
<path d="M1073.7 229.8A2.6 2.6 0 0 1 1075.8 232.6" stroke-width="1.2"/>
<path d="M1074.1 227.3A5.2 5.2 0 0 1 1078.4 232.9" stroke-width="1.2"/>
<path d="M1074.6 224.7A7.8 7.8 0 0 1 1081.0 233.1" stroke-width="1.2"/>
<path d="M1069.9 298.0A2.6 2.6 0 0 1 1072.0 300.8" stroke-width="1.2"/>
<path d="M1070.3 295.5A5.2 5.2 0 0 1 1074.6 301.1" stroke-width="1.2"/>
<path d="M1070.8 292.9A7.8 7.8 0 0 1 1077.2 301.3" stroke-width="1.2"/>
</g>

<g fill="none" stroke="#b9b9b9" stroke-width="1.4">
<path d="M489.6 521.89V296.95H827.2V409.41999999999996"/>
<path d="M658.2 296.95V409.41999999999996"/>
<path d="M489.6 353.185H658.2"/>
<path d="M489.6 409.41999999999996H658.2"/>
<path d="M489.6 465.655H658.2"/>
<circle cx="520.5" cy="325.1" r="14.2" stroke="#a6a6a6" stroke-width="1.35"/>
<circle cx="520.5" cy="381.3" r="14.2" stroke="#a6a6a6" stroke-width="1.35"/>
<circle cx="520.5" cy="437.5" r="14.2" stroke="#a6a6a6" stroke-width="1.35"/>
<circle cx="520.5" cy="493.8" r="14.2" stroke="#a6a6a6" stroke-width="1.35"/>
</g>
<g fill="none" stroke="#161616" stroke-width="1.55">
<path d="M489.6 521.89V859.3H827.2V409.41999999999996H658.2V859.3"/>
<path d="M658.2 465.655H827.2"/>
<path d="M489.6 521.9H827.2"/>
<path d="M489.6 578.1H827.2"/>
<path d="M489.6 634.4H827.2"/>
<path d="M489.6 690.6H827.2"/>
<path d="M489.6 746.8H827.2"/>
<path d="M489.6 803.1H827.2"/>
</g>
<g fill="none" stroke="#000" stroke-width="3.0" stroke-linejoin="miter">
<path d="M373.8 243.45H463.8V550.0H520.5"/>
<path d="M373.8 266.4H396.5V718.7H520.5"/>
<path d="M373.8 390.5H441.5V606.2H520.5"/>
<path d="M373.8 412.9H396.5"/>
<path d="M373.8 555.7H419.5V662.5H520.5"/>
<path d="M373.8 578.3H396.5"/>
<path d="M373.8 791.95H463.8V774.9H520.5"/>
<path d="M373.8 814.45H463.8V831.2H520.5"/>
<path d="M796 662.5H852.3V679.3H942.2"/>
<path d="M796 718.7H852.3V701.7H942.2"/>
<path d="M796 774.9H849.4V791.85H942.2"/>
<path d="M796 831.2H849.4V814.4H942.2"/>
</g>
<g fill="none" stroke="#06608d" stroke-width="3.0" stroke-linejoin="miter">
<path d="M796 437.5H849.5V265.45"/>
<path d="M796 493.8H872.3V243.35"/>
<path d="M827.2 243.35H942.2"/>
<path d="M827.2 265.45H942.2"/>
<path d="M748.5 243.35H824.2" stroke-dasharray="3.2 2.35"/>
<path d="M748.5 265.45H824.2" stroke-dasharray="3.2 2.35"/>
<path d="M796 550.0H897.5V465.5H967.3"/>
<path d="M796 606.2H919.7V488H967.3"/>
<path d="M1115.3 465.5H1162M1115.3 487.7H1162" stroke-width="3.3"/>
</g>
<circle cx="520.5" cy="550.0" r="13.8" fill="#fff" stroke="#000" stroke-width="1.65"/>
<circle cx="520.5" cy="550.0" r="8.6" fill="#000"/>
<circle cx="520.5" cy="606.2" r="13.8" fill="#fff" stroke="#000" stroke-width="1.65"/>
<circle cx="520.5" cy="606.2" r="8.6" fill="#000"/>
<circle cx="520.5" cy="662.5" r="13.8" fill="#fff" stroke="#000" stroke-width="1.65"/>
<circle cx="520.5" cy="662.5" r="8.6" fill="#000"/>
<circle cx="520.5" cy="718.7" r="13.8" fill="#fff" stroke="#000" stroke-width="1.65"/>
<circle cx="520.5" cy="718.7" r="8.6" fill="#000"/>
<circle cx="520.5" cy="774.9" r="13.8" fill="#fff" stroke="#000" stroke-width="1.65"/>
<circle cx="520.5" cy="774.9" r="8.6" fill="#000"/>
<circle cx="520.5" cy="831.2" r="13.8" fill="#fff" stroke="#000" stroke-width="1.65"/>
<circle cx="520.5" cy="831.2" r="8.6" fill="#000"/>
<circle cx="796" cy="437.5" r="13.8" fill="#fff" stroke="#000" stroke-width="1.65"/>
<circle cx="796" cy="437.5" r="8.6" fill="#06608d"/>
<path d="M796 437.5H812" stroke="#06608d" stroke-width="3.0"/>
<circle cx="796" cy="493.8" r="13.8" fill="#fff" stroke="#000" stroke-width="1.65"/>
<circle cx="796" cy="493.8" r="8.6" fill="#06608d"/>
<path d="M796 493.8H812" stroke="#06608d" stroke-width="3.0"/>
<circle cx="796" cy="550.0" r="13.8" fill="#fff" stroke="#000" stroke-width="1.65"/>
<circle cx="796" cy="550.0" r="8.6" fill="#06608d"/>
<path d="M796 550.0H812" stroke="#06608d" stroke-width="3.0"/>
<circle cx="796" cy="606.2" r="13.8" fill="#fff" stroke="#000" stroke-width="1.65"/>
<circle cx="796" cy="606.2" r="8.6" fill="#06608d"/>
<path d="M796 606.2H812" stroke="#06608d" stroke-width="3.0"/>
<circle cx="796" cy="662.5" r="13.8" fill="#fff" stroke="#000" stroke-width="1.65"/>
<circle cx="796" cy="662.5" r="8.6" fill="#000"/>
<path d="M796 662.5H812" stroke="#000" stroke-width="3.0"/>
<circle cx="796" cy="718.7" r="13.8" fill="#fff" stroke="#000" stroke-width="1.65"/>
<circle cx="796" cy="718.7" r="8.6" fill="#000"/>
<path d="M796 718.7H812" stroke="#000" stroke-width="3.0"/>
<circle cx="796" cy="774.9" r="13.8" fill="#fff" stroke="#000" stroke-width="1.65"/>
<circle cx="796" cy="774.9" r="8.6" fill="#000"/>
<path d="M796 774.9H812" stroke="#000" stroke-width="3.0"/>
<circle cx="796" cy="831.2" r="13.8" fill="#fff" stroke="#000" stroke-width="1.65"/>
<circle cx="796" cy="831.2" r="8.6" fill="#000"/>
<path d="M796 831.2H812" stroke="#000" stroke-width="3.0"/>
<path d="M504 550.0H520.5" stroke="#000" stroke-width="3.0"/>
<path d="M504 606.2H520.5" stroke="#000" stroke-width="3.0"/>
<path d="M504 662.5H520.5" stroke="#000" stroke-width="3.0"/>
<path d="M504 718.7H520.5" stroke="#000" stroke-width="3.0"/>
<path d="M504 774.9H520.5" stroke="#000" stroke-width="3.0"/>
<path d="M504 831.2H520.5" stroke="#000" stroke-width="3.0"/>
<text x="545.3" y="554.3" font-size="16.1" font-weight="bold" text-anchor="start" fill="#1d1d1b" stroke="#1d1d1b" stroke-width="0.4" stroke-linejoin="round" textLength="30.2" lengthAdjust="spacingAndGlyphs">AO3</text>
<text x="579.5" y="554.3" font-size="16.1" font-weight="normal" text-anchor="start" fill="#1d1d1b" stroke="#1d1d1b" stroke-width="0.15" textLength="51.7" lengthAdjust="spacingAndGlyphs">(0-10V)</text>
<text x="545.3" y="610.5" font-size="16.1" font-weight="bold" text-anchor="start" fill="#1d1d1b" stroke="#1d1d1b" stroke-width="0.4" stroke-linejoin="round" textLength="30.2" lengthAdjust="spacingAndGlyphs">AO2</text>
<text x="579.5" y="610.5" font-size="16.1" font-weight="normal" text-anchor="start" fill="#1d1d1b" stroke="#1d1d1b" stroke-width="0.15" textLength="51.7" lengthAdjust="spacingAndGlyphs">(0-10V)</text>
<text x="545.3" y="666.8" font-size="16.1" font-weight="bold" text-anchor="start" fill="#1d1d1b" stroke="#1d1d1b" stroke-width="0.4" stroke-linejoin="round" textLength="29.0" lengthAdjust="spacingAndGlyphs">AO1</text>
<text x="579.5" y="666.8" font-size="16.1" font-weight="normal" text-anchor="start" fill="#1d1d1b" stroke="#1d1d1b" stroke-width="0.15" textLength="51.7" lengthAdjust="spacingAndGlyphs">(0-10V)</text>
<text x="545.3" y="723.0" font-size="16.1" font-weight="bold" text-anchor="start" fill="#1d1d1b" stroke="#1d1d1b" stroke-width="0.4" stroke-linejoin="round" textLength="33.2" lengthAdjust="spacingAndGlyphs">GND</text>
<text x="545.3" y="779.2" font-size="16.1" font-weight="bold" text-anchor="start" fill="#1d1d1b" stroke="#1d1d1b" stroke-width="0.4" stroke-linejoin="round" textLength="33.2" lengthAdjust="spacingAndGlyphs">GND</text>
<text x="545.3" y="835.5" font-size="16.1" font-weight="bold" text-anchor="start" fill="#1d1d1b" stroke="#1d1d1b" stroke-width="0.4" stroke-linejoin="round" textLength="24.4" lengthAdjust="spacingAndGlyphs">DI2</text>
<text x="573.9" y="835.5" font-size="16.1" font-weight="normal" text-anchor="start" fill="#1d1d1b" stroke="#1d1d1b" stroke-width="0.15" textLength="58.0" lengthAdjust="spacingAndGlyphs">(pot. frei)</text>
<text x="701.3" y="441.8" font-size="16.1" font-weight="bold" text-anchor="start" fill="#1d1d1b" stroke="#1d1d1b" stroke-width="0.4" stroke-linejoin="round" textLength="69.7" lengthAdjust="spacingAndGlyphs">Modbus B</text>
<text x="701.3" y="498.1" font-size="16.1" font-weight="bold" text-anchor="start" fill="#1d1d1b" stroke="#1d1d1b" stroke-width="0.4" stroke-linejoin="round" textLength="69.7" lengthAdjust="spacingAndGlyphs">Modbus A</text>
<text x="701.3" y="554.3" font-size="16.1" font-weight="bold" text-anchor="start" fill="#1d1d1b" stroke="#1d1d1b" stroke-width="0.4" stroke-linejoin="round" textLength="69.7" lengthAdjust="spacingAndGlyphs">Modbus B</text>
<text x="701.3" y="610.5" font-size="16.1" font-weight="bold" text-anchor="start" fill="#1d1d1b" stroke="#1d1d1b" stroke-width="0.4" stroke-linejoin="round" textLength="69.7" lengthAdjust="spacingAndGlyphs">Modbus A</text>
<text x="737.8" y="666.8" font-size="16.1" font-weight="bold" text-anchor="start" fill="#1d1d1b" stroke="#1d1d1b" stroke-width="0.4" stroke-linejoin="round" textLength="33.2" lengthAdjust="spacingAndGlyphs">GND</text>
<text x="711.0" y="713.8" font-size="16.1" font-weight="bold" text-anchor="start" fill="#1d1d1b" stroke="#1d1d1b" stroke-width="0.4" stroke-linejoin="round" textLength="60.0" lengthAdjust="spacingAndGlyphs">NTC10K</text>
<text x="684.3" y="732.5" font-size="16.1" font-weight="normal" text-anchor="start" fill="#1d1d1b" stroke="#1d1d1b" stroke-width="0.15" textLength="86.7" lengthAdjust="spacingAndGlyphs">(DI1 pot. frei)</text>
<text x="746.3" y="770.0" font-size="16.1" font-weight="bold" text-anchor="start" fill="#1d1d1b" stroke="#1d1d1b" stroke-width="0.4" stroke-linejoin="round" textLength="24.7" lengthAdjust="spacingAndGlyphs">UB-</text>
<text x="685.1" y="788.7" font-size="16.1" font-weight="normal" text-anchor="start" fill="#1d1d1b" stroke="#1d1d1b" stroke-width="0.15" textLength="85.9" lengthAdjust="spacingAndGlyphs">GND AC/DC</text>
<text x="739.8" y="826.3" font-size="16.1" font-weight="bold" text-anchor="start" fill="#1d1d1b" stroke="#1d1d1b" stroke-width="0.4" stroke-linejoin="round" textLength="31.2" lengthAdjust="spacingAndGlyphs">UB+</text>
<text x="688.0" y="845.0" font-size="16.1" font-weight="normal" text-anchor="start" fill="#1d1d1b" stroke="#1d1d1b" stroke-width="0.15" textLength="83.0" lengthAdjust="spacingAndGlyphs">24V AC/DC</text>
<text x="250.3" y="182.7" font-size="15.2" font-weight="bold" text-anchor="start" fill="#1d1d1b" stroke="#1d1d1b" stroke-width="0.4" stroke-linejoin="round" textLength="95.4" lengthAdjust="spacingAndGlyphs">Fancoil 0-10V</text>
<text x="301.1" y="202.6" font-size="15.2" font-weight="normal" text-anchor="start" fill="#1d1d1b" stroke="#1d1d1b" stroke-width="0.15" textLength="49.2" lengthAdjust="spacingAndGlyphs">(Lüfter)</text>
<text x="89.2" y="400.1" font-size="15.2" font-weight="bold" text-anchor="start" fill="#1d1d1b" stroke="#1d1d1b" stroke-width="0.4" stroke-linejoin="round" textLength="128.1" lengthAdjust="spacingAndGlyphs">Stellantrieb 0-10V</text>
<text x="167.1" y="418.8" font-size="15.2" font-weight="normal" text-anchor="start" fill="#1d1d1b" stroke="#1d1d1b" stroke-width="0.15" textLength="54.6" lengthAdjust="spacingAndGlyphs">(Kühlen)</text>
<text x="88.5" y="563.9" font-size="15.2" font-weight="bold" text-anchor="start" fill="#1d1d1b" stroke="#1d1d1b" stroke-width="0.4" stroke-linejoin="round" textLength="128.3" lengthAdjust="spacingAndGlyphs">Stellantrieb 0-10V</text>
<text x="166.0" y="583.0" font-size="15.2" font-weight="normal" text-anchor="start" fill="#1d1d1b" stroke="#1d1d1b" stroke-width="0.15" textLength="54.6" lengthAdjust="spacingAndGlyphs">(Heizen)</text>
<text x="148.2" y="722.8" font-size="15.2" font-weight="bold" text-anchor="start" fill="#1d1d1b" stroke="#1d1d1b" stroke-width="0.4" stroke-linejoin="round" textLength="110.4" lengthAdjust="spacingAndGlyphs">Digitaleingang 2</text>
<text x="263.0" y="722.8" font-size="15.2" font-weight="normal" text-anchor="start" fill="#1d1d1b" stroke="#1d1d1b" stroke-width="0.15" textLength="86.9" lengthAdjust="spacingAndGlyphs">(potentialfrei)</text>
<text x="652.1" y="271.4" font-size="16.1" font-weight="bold" text-anchor="start" fill="#1d1d1b" stroke="#1d1d1b" stroke-width="0.4" stroke-linejoin="round" textLength="85.0" lengthAdjust="spacingAndGlyphs">RS485 A/B</text>
<text x="1014.1" y="104.7" font-size="16.1" font-weight="bold" text-anchor="start" fill="#1d1d1b" stroke="#1d1d1b" stroke-width="0.4" stroke-linejoin="round" textLength="157.2" lengthAdjust="spacingAndGlyphs">BMS / GLT / Gateway</text>
<text x="976.6" y="397.4" font-size="16.1" font-weight="bold" text-anchor="start" fill="#1d1d1b" stroke="#1d1d1b" stroke-width="0.4" stroke-linejoin="round" textLength="126.5" lengthAdjust="spacingAndGlyphs">Next RS485 Slave</text>
<text x="1167.3" y="397.4" font-size="16.1" font-weight="bold" text-anchor="start" fill="#1d1d1b" stroke="#1d1d1b" stroke-width="0.4" stroke-linejoin="round" textLength="127.2" lengthAdjust="spacingAndGlyphs">Next RS485 Slave</text>
<text x="975.7" y="605.5" font-size="15.6" font-weight="bold" text-anchor="start" fill="#1d1d1b" stroke="#1d1d1b" stroke-width="0.4" stroke-linejoin="round" textLength="248.3" lengthAdjust="spacingAndGlyphs">Externer NTC10K / Digitaleingang 1</text>
<text x="974.2" y="811.8" font-size="23.2" font-weight="bold" text-anchor="start" fill="#1d1d1b" textLength="131.6" lengthAdjust="spacingAndGlyphs">24 V AC/DC</text>
<g>
<circle cx="663.6" cy="231.6" r="3.9" fill="#fdc110"/>
<circle cx="674.0" cy="235.0" r="3.9" fill="#fdc110"/>
<circle cx="656.4" cy="239.6" r="3.9" fill="#fdc110"/>
<circle cx="659.4" cy="249.8" r="3.9" fill="#fdc110"/>
<circle cx="670.2" cy="252.2" r="3.9" fill="#fdc110"/>
<circle cx="676.4" cy="245.8" r="3.9" fill="#fdc110"/>
<circle cx="671.3" cy="243.8" r="3.6" fill="#f7971d"/>
<circle cx="667.8" cy="246.7" r="3.6" fill="#f7971d"/>
<circle cx="663.5" cy="245.2" r="3.6" fill="#f7971d"/>
<circle cx="662.7" cy="240.6" r="3.6" fill="#f7971d"/>
<circle cx="666.2" cy="237.7" r="3.6" fill="#f7971d"/>
<circle cx="670.5" cy="239.2" r="3.6" fill="#f7971d"/>
<circle cx="667.0" cy="242.2" r="3.4" fill="#f7971d"/>
<path d="M667.0 242.2L664.6 234.6" stroke="#4cb848" stroke-width="0.9"/>
<circle cx="664.6" cy="234.6" r="1" fill="#2fa84a"/>
<path d="M667.0 242.2L672.0 237.0" stroke="#4cb848" stroke-width="0.9"/>
<circle cx="672.0" cy="237.0" r="1" fill="#2fa84a"/>
<path d="M667.0 242.2L659.4 240.3" stroke="#4cb848" stroke-width="0.9"/>
<circle cx="659.4" cy="240.3" r="1" fill="#2fa84a"/>
<path d="M667.0 242.2L661.5 247.7" stroke="#4cb848" stroke-width="0.9"/>
<circle cx="661.5" cy="247.7" r="1" fill="#2fa84a"/>
<path d="M667.0 242.2L669.3 249.4" stroke="#4cb848" stroke-width="0.9"/>
<circle cx="669.3" cy="249.4" r="1" fill="#2fa84a"/>
<path d="M667.0 242.2L673.8 244.8" stroke="#4cb848" stroke-width="0.9"/>
<circle cx="673.8" cy="244.8" r="1" fill="#2fa84a"/>
<text x="669.2" y="246.7" font-size="13.4" font-weight="bold" font-style="italic" fill="#1481cd" stroke="#1481cd" stroke-width="0.5" textLength="65.8" lengthAdjust="spacingAndGlyphs">Modbus</text>
</g>
</svg>
</body></html>
